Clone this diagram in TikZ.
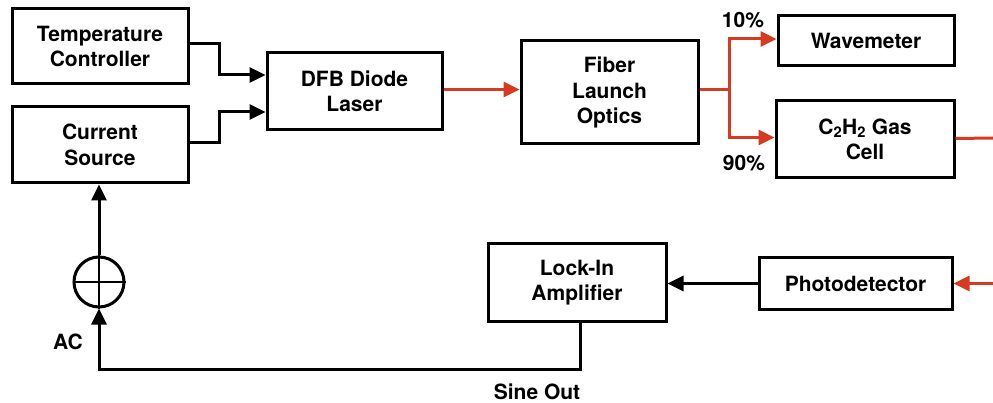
\documentclass[tikz,border=0pt]{standalone}
\usepackage{fontspec}
\setmainfont{TeX Gyre Heros}
\usetikzlibrary{arrows.meta,calc}
\definecolor{beam}{RGB}{214,58,34}
\begin{document}
\begin{tikzpicture}[x=1pt,y=-1pt,
  box/.style={draw=black,line width=3pt,rectangle,align=center,inner sep=0pt,
    font=\fontsize{21}{25.5}\selectfont\bfseries},
  lbl/.style={font=\fontsize{21}{25.5}\selectfont\bfseries,inner sep=0pt},
  wire/.style={draw=black,line width=3pt},
  wirearr/.style={wire,-{Triangle[length=16pt,width=15pt]}},
  ray/.style={draw=beam,line width=3pt},
  rayarr/.style={ray,-{Triangle[length=16pt,width=15pt]}}]
\useasboundingbox (0,0) rectangle (993,403);
\node[box,minimum width=176pt,minimum height=75pt] (temp) at (100,46.5) {Temperature\\Controller};
\node[box,minimum width=176pt,minimum height=76pt] (cur) at (100,145) {Current\\Source};
\node[box,minimum width=175pt,minimum height=77pt] (dfb) at (354.5,91.5) {DFB Diode\\Laser};
\node[box,minimum width=177pt,minimum height=103pt] (fiber) at (609.5,92.5) {Fiber\\Launch\\Optics};
\node[box,minimum width=176pt,minimum height=50pt] (wave) at (866,41) {Wavemeter};
\node[box,minimum width=178pt,minimum height=77pt] (gas) at (865,139.5) {C\textsubscript{2}H\textsubscript{2} Gas\\Cell};
\node[box,minimum width=178pt,minimum height=77pt] (lock) at (577,282.5) {Lock-In\\Amplifier};
\node[box,minimum width=193pt,minimum height=51pt] (photo) at (855.5,283.5) {Photodetector};
\node[draw=black,line width=3pt,circle,minimum size=50pt,inner sep=0pt] (sum) at (99,282) {};
\draw[wire,line width=2.5pt] (sum.west) -- (sum.east);
\draw[wire,line width=2.5pt] (sum.north) -- (sum.south);
\node[lbl] (p10) at (743,20) {10\%};
\node[lbl] (p90) at (744,163) {90\%};
\node[lbl] (ac) at (68,342) {AC};
\node[lbl] (sine) at (537,392) {Sine Out};
\coordinate (gout) at (993,138);
\coordinate (pin) at (993,283.5);
% control connectors
\draw[wirearr] ([yshift=3pt]temp.east) -- ++(30,0) |- ([yshift=16.5pt]dfb.west);
\draw[wirearr] ([yshift=2pt]cur.east) -- ++(30,0) |- ([yshift=-20.5pt]dfb.west);
% beam
\draw[rayarr] ([yshift=2pt]dfb.east) -- ([yshift=3pt]fiber.west);
\draw[ray] ([yshift=3pt]fiber.east) -- ++(30,0) coordinate (sp);
\draw[rayarr] (sp) |- ([yshift=2pt]wave.west);
\draw[rayarr] (sp) |- ([yshift=2pt]gas.west);
\draw[ray] ([yshift=1pt]gas.east) -- (gout);
\draw[rayarr] (pin) -- (photo.east);
% detection loop
\draw[wirearr] (photo.west) -- (photo.west -| lock.east);
\draw[wirearr] ([xshift=3pt]lock.south) -- ++(0,47) -| (sum.south);
\draw[wirearr] (sum.north) -- ([xshift=-1pt]cur.south);
\end{tikzpicture}
\end{document}
